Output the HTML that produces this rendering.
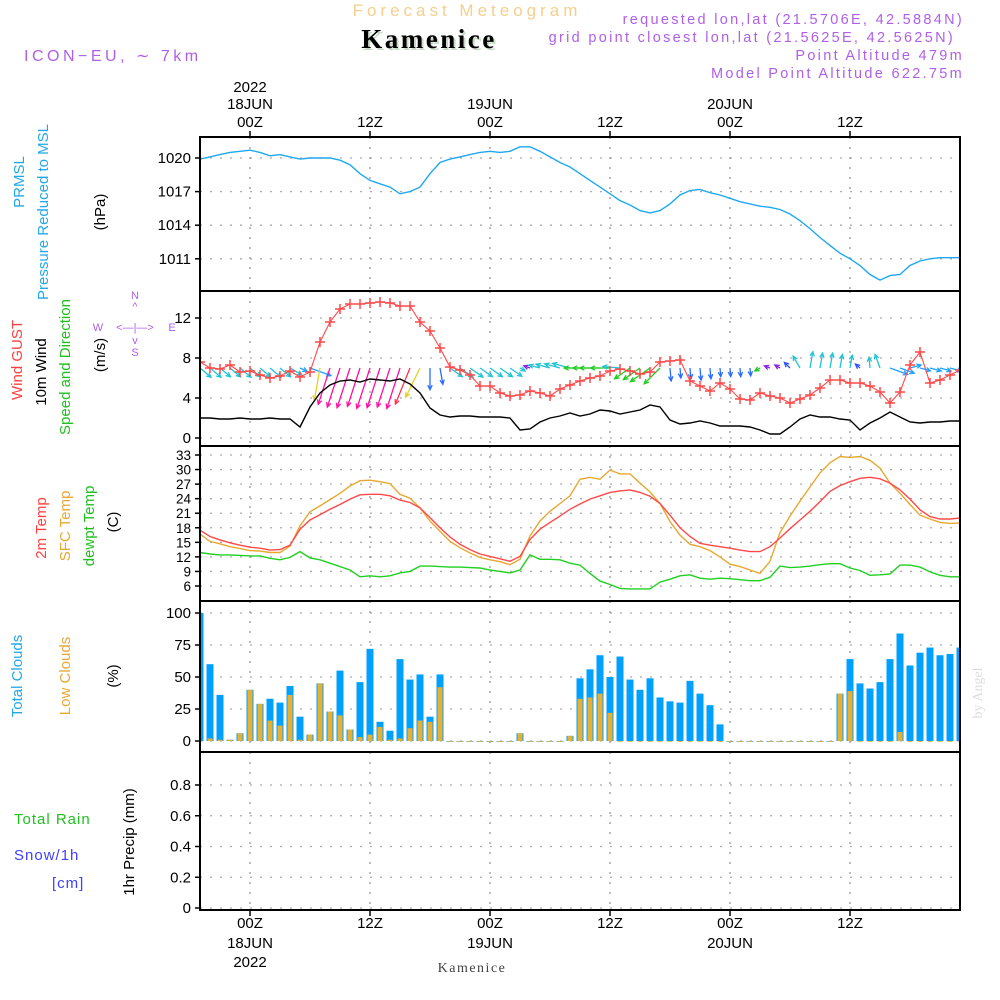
<!DOCTYPE html>
<html><head><meta charset="utf-8"><style>
body{margin:0;background:#fff;}
svg{display:block;font-family:"Liberation Sans",sans-serif;}
</style></head><body>
<svg id="c" width="1000" height="1000" viewBox="0 0 1000 1000" xmlns="http://www.w3.org/2000/svg">
<defs><clipPath id="plotclip"><rect x="200" y="137" width="760" height="773"/></clipPath></defs>
<rect x="0" y="0" width="1000" height="1000" fill="#fff"/>
<text x="467" y="16" text-anchor="middle" font-size="17" letter-spacing="4" fill="#f5cf8e">Forecast Meteogram</text>
<text x="431" y="50" text-anchor="middle" font-size="27" font-weight="bold" letter-spacing="2.5" font-family="Liberation Serif,serif" fill="#c8dcc8">Kamenice</text>
<text x="429" y="48" text-anchor="middle" font-size="27" font-weight="bold" letter-spacing="2.5" font-family="Liberation Serif,serif" fill="#000">Kamenice</text>
<g fill="#b060e8" font-size="14.5" text-anchor="end" letter-spacing="2.3">
<text x="964" y="24">requested lon,lat (21.5706E, 42.5884N)</text>
<text x="955" y="42">grid point closest lon,lat (21.5625E, 42.5625N)</text>
<text x="964" y="60">Point Altitude 479m</text>
<text x="964" y="78">Model Point Altitude 622.75m</text>
</g>
<text x="24" y="61" font-size="16" fill="#b060e8" letter-spacing="3.5">ICON−EU, ∼ 7km</text>
<g font-size="15" fill="#000" text-anchor="middle">
<text x="250" y="92">2022</text>
<text x="250" y="109">18JUN</text>
<text x="490" y="109">19JUN</text>
<text x="730" y="109">20JUN</text>
<text x="250" y="127">00Z</text>
<text x="370" y="127">12Z</text>
<text x="490" y="127">00Z</text>
<text x="610" y="127">12Z</text>
<text x="730" y="127">00Z</text>
<text x="850" y="127">12Z</text>
<text x="250" y="928">00Z</text>
<text x="370" y="928">12Z</text>
<text x="490" y="928">00Z</text>
<text x="610" y="928">12Z</text>
<text x="730" y="928">00Z</text>
<text x="850" y="928">12Z</text>
<text x="250" y="948">18JUN</text>
<text x="490" y="948">19JUN</text>
<text x="730" y="948">20JUN</text>
<text x="250" y="967">2022</text>
</g>
<text x="472" y="972" text-anchor="middle" font-size="14" font-family="Liberation Serif,serif" fill="#444" letter-spacing="1.5">Kamenice</text>
<text transform="translate(982,693) rotate(-90)" text-anchor="middle" font-size="14" font-family="Liberation Serif,serif" fill="#ddd">by Angel</text>
<g font-size="15">
<text transform="translate(24,182) rotate(-90)" text-anchor="middle" fill="#20a8e8">PRMSL</text>
<text transform="translate(48,212) rotate(-90)" text-anchor="middle" fill="#20a8e8">Pressure Reduced to MSL</text>
<text transform="translate(105,212) rotate(-90)" text-anchor="middle" fill="#000">(hPa)</text>
<text transform="translate(22,360) rotate(-90)" text-anchor="middle" fill="#ff4040">Wind GUST</text>
<text transform="translate(46,372) rotate(-90)" text-anchor="middle" fill="#000">10m Wind</text>
<text transform="translate(70,367) rotate(-90)" text-anchor="middle" fill="#20c020">Speed and Direction</text>
<text transform="translate(105,355) rotate(-90)" text-anchor="middle" fill="#000">(m/s)</text>
<text transform="translate(46,528) rotate(-90)" text-anchor="middle" fill="#ff4040">2m Temp</text>
<text transform="translate(70,526) rotate(-90)" text-anchor="middle" fill="#e8a830">SFC Temp</text>
<text transform="translate(94,526) rotate(-90)" text-anchor="middle" fill="#20c020">dewpt Temp</text>
<text transform="translate(118,522) rotate(-90)" text-anchor="middle" fill="#000">(C)</text>
<text transform="translate(22,676) rotate(-90)" text-anchor="middle" fill="#20a8e8">Total Clouds</text>
<text transform="translate(70,676) rotate(-90)" text-anchor="middle" fill="#e8a830">Low Clouds</text>
<text transform="translate(118,676) rotate(-90)" text-anchor="middle" fill="#000">(%)</text>
<text x="14" y="824" fill="#20c020" letter-spacing="1">Total  Rain</text>
<text x="14" y="860" fill="#4040ff" letter-spacing="1">Snow/1h</text>
<text x="52" y="888" fill="#4040ff" letter-spacing="1">[cm]</text>
<text transform="translate(134,842) rotate(-90)" text-anchor="middle" fill="#000">1hr Precip (mm)</text>
</g>
<g fill="#b060e8" font-size="11" text-anchor="middle">
<text x="135" y="299">N</text><text x="135" y="310">^</text>
<text x="98" y="331">W</text><text x="135" y="331">&lt;—|—&gt;</text><text x="172" y="331">E</text>
<text x="135" y="344">v</text><text x="135" y="356">S</text>
</g>
<g id="grid"></g>
<g id="marks" clip-path="url(#plotclip)"></g>
<g id="frames"></g>
</svg>
<script>
// ---- data (hourly, hours -5 .. 71 relative to 18JUN 00Z) ----
const startHour = -5;
const pressure = [1019.9,1020.1,1020.3,1020.5,1020.6,1020.7,1020.5,1020.2,1020.3,1020.1,1019.9,1020,1020,1020,1019.8,1019.4,1018.6,1018,1017.7,1017.4,1016.8,1017,1017.4,1018.6,1019.6,1019.9,1020.1,1020.3,1020.5,1020.6,1020.5,1020.6,1021,1021,1020.6,1020.1,1019.6,1019.2,1018.6,1018,1017.4,1016.8,1016.2,1015.8,1015.3,1015.1,1015.3,1015.9,1016.7,1017.1,1017.2,1016.9,1016.7,1016.4,1016.1,1015.9,1015.7,1015.6,1015.4,1015.0,1014.4,1013.7,1012.9,1012.2,1011.5,1011,1010.4,1009.6,1009.1,1009.5,1009.6,1010.4,1010.8,1011,1011.1,1011.1,1011.1];
const windSpeed = [2.0,2.0,1.9,1.9,2.0,1.9,1.9,2.0,1.9,1.9,1.1,3.1,4.5,5.3,5.7,5.8,5.6,5.9,5.8,5.7,5.9,5.4,4.5,3.0,2.3,2.1,2.2,2.2,2.1,2.1,2.1,2.0,0.8,0.9,1.6,2.0,2.2,2.5,2.2,2.4,2.8,2.7,2.4,2.6,2.8,3.3,3.1,1.8,1.4,1.5,1.7,1.5,1.2,1.2,1.2,1.1,0.8,0.4,0.4,1.1,1.9,2.3,2.1,2.1,1.9,1.8,0.8,1.5,2.0,2.6,2.1,1.6,1.5,1.6,1.6,1.7,1.7];
const windDir = [40,40,40,40,40,40,40,40,40,30,25,20,100,108,108,108,108,108,108,108,108,112,116,90,80,35,35,35,35,35,35,35,30,200,195,195,195,195,180,180,180,180,185,145,145,145,135,85,85,85,85,85,85,85,85,85,150,200,210,225,240,280,280,280,280,280,220,265,250,20,20,-15,15,15,15,15,15];
const windGust = [7.6,7.0,6.9,7.3,6.6,6.7,6.3,6.0,6.2,6.7,6.1,6.6,9.6,11.6,12.9,13.4,13.4,13.5,13.6,13.5,13.2,13.2,11.6,10.7,9.0,7.1,6.8,6.3,5.2,5.2,4.5,4.2,4.3,4.7,4.5,4.2,4.9,5.3,5.7,6.0,6.2,6.7,6.9,6.7,6.4,6.6,7.6,7.7,7.8,5.7,5.2,4.7,5.5,4.9,3.9,3.8,4.5,4.2,4.0,3.5,3.9,4.3,5.0,5.8,5.8,5.5,5.5,5.2,4.6,3.5,4.6,7.3,8.6,5.5,5.8,6.3,6.8];
const temp2m = [17.5,16.2,15.5,14.9,14.4,14.0,13.8,13.4,13.5,14.4,17.7,19.6,20.7,21.8,22.8,23.9,24.8,24.9,24.9,24.6,23.7,23.2,22.1,20.1,18.0,16.1,14.6,13.5,12.6,12.1,11.6,11.1,12.1,15.6,17.7,19.1,20.4,21.8,22.9,23.9,24.6,25.3,25.6,25.8,25.3,24.5,23.0,20.6,18.0,16.2,14.8,14.4,14.1,13.8,13.4,13.1,13.1,14.1,15.9,17.8,19.6,21.4,23.4,25.5,26.7,27.5,28.2,28.4,28.1,27.2,25.8,23.9,21.7,20.3,19.8,19.8,20.0];
const tempSfc = [16.7,15.2,14.7,14.1,13.7,13.3,13.2,12.9,12.9,14.2,18.4,21.3,22.5,23.8,25.1,26.6,27.7,27.8,27.5,27.1,24.9,24.1,22.1,19.4,17.3,15.2,13.9,12.8,11.9,11.4,11.0,10.4,11.5,16.3,19.4,21.4,23.0,24.6,28.0,28.4,28.0,29.9,29.1,29.1,27.2,25.4,23.0,19.3,16.5,14.6,14.1,13.3,12.0,10.5,10.0,9.3,8.6,11.1,17.0,20.4,23.5,26.4,29.3,31.4,32.7,32.5,32.7,31.9,30.3,27.2,25.1,22.8,20.6,19.8,19.1,18.9,19.0];
const dewpt = [12.9,12.6,12.4,12.4,12.3,12.2,12.2,11.7,11.4,11.9,13.1,11.8,11.4,10.7,10.0,9.3,7.9,8.1,7.9,8.1,8.7,9.0,10.1,10.1,10.0,9.9,9.9,9.8,9.7,9.3,9.0,8.7,9.3,12.4,11.5,11.5,11.4,10.7,10.3,8.6,7.0,6.3,5.5,5.4,5.4,5.4,6.8,7.4,8.1,8.3,7.6,7.4,7.6,7.5,7.3,7.1,7.1,7.8,10.1,9.8,9.9,10.1,10.4,10.6,10.6,9.7,9.2,8.2,8.3,8.5,10.3,10.3,9.9,8.9,8.2,7.9,7.9];
const totalCloud = [100,60,36,1,6,40,29,33,30,43,19,5,45,23,55,9,46,72,15,8,64,48,52,19,52,0,0,0,0,0,0,0,6,0,0,0,0,4,49,56,67,50,66,48,40,49,34,31,30,47,37,28,13,0,0,0,0,0,0,0,0,0,0,0,37,64,45,41,46,64,84,59,69,73,67,68,73];
const lowCloud = [0,2,1,1,6,40,29,16,12,36,1,5,45,23,20,9,3,5,11,1,2,10,16,15,42,0,0,0,0,0,0,0,6,0,0,0,0,4,33,34,37,22,0,0,0,0,0,0,0,0,0,0,0,0,0,0,0,0,0,0,0,0,0,0,37,39,0,0,0,0,7,0,0,0,0,0,0];
const precip = [];
const pressureTicks = [1020,1017,1014,1011];
const windTicks = [0,4,8,12];
const tempTicks = [6,9,12,15,18,21,24,27,30,33];
const cloudTicks = [0,25,50,75,100];
const precipTicks = [0,0.2,0.4,0.6,0.8];
const timeTicks = [0,12,24,36,48,60];

const X0 = 200, X1 = 960;
const xOf = h => 250 + 10*h;
const yP = v => 158 + (1020 - v)*11.2;
const yW = v => 438 - 10*v;
const yT = v => 586 - (v - 6)*4.852;
const yC = v => 741 - v*1.28;
const yR = v => 908 - v*153.75;
const NS = 'http://www.w3.org/2000/svg';
function mk(tag, parent, attrs){const e=document.createElementNS(NS,tag);for(const k in attrs)e.setAttribute(k,attrs[k]);parent.appendChild(e);return e;}
const grid = document.getElementById('grid'), marks = document.getElementById('marks'), frames = document.getElementById('frames');

const panels = [
 {top:137,bot:291,ticks:pressureTicks,y:yP,fmt:v=>String(v),name:'pressure'},
 {top:291,bot:446,ticks:windTicks,y:yW,fmt:v=>String(v),name:'wind'},
 {top:446,bot:601,ticks:tempTicks,y:yT,fmt:v=>String(v),name:'temperature'},
 {top:601,bot:752,ticks:cloudTicks,y:yC,fmt:v=>String(v),name:'cloud'},
 {top:752,bot:910,ticks:precipTicks,y:yR,fmt:v=>v===0?'0':v.toFixed(1),name:'precip'}
];
panels.forEach(p=>{
  p.ticks.forEach(t=>{
    const y=p.y(t);
    const g=mk('line',grid,{x1:X0,x2:X1,y1:y,y2:y,stroke:'#aaa','stroke-width':1.3,'stroke-dasharray':'2 8'});
    
    
    mk('line',frames,{x1:X0-5,x2:X0,y1:y,y2:y,stroke:'#000','stroke-width':1.5});
    const tx=mk('text',frames,{x:X0-9,y:y+5,'text-anchor':'end','font-size':p.name==='temperature'?13.5:15,fill:'#000'});
    tx.textContent=p.fmt(t);
    
    
  });
  timeTicks.forEach(h=>{
    const x=xOf(h);
    const v=mk('line',grid,{x1:x,x2:x,y1:p.top,y2:p.bot,stroke:'#999','stroke-width':1.3,'stroke-dasharray':'2 8'});
    
    
  });
  const fr=mk('rect',frames,{x:X0,y:p.top,width:X1-X0,height:p.bot-p.top,fill:'none',stroke:'#000','stroke-width':2});
  
  
});
timeTicks.forEach(h=>{mk('line',frames,{x1:xOf(h),x2:xOf(h),y1:131,y2:137,stroke:'#000','stroke-width':1.5});mk('line',frames,{x1:xOf(h),x2:xOf(h),y1:910,y2:916,stroke:'#000','stroke-width':1.5});});

function line(arr, yf, color, name, w){
  const pts=arr.map((v,i)=>xOf(startHour+i)+','+yf(v).toFixed(1)).join(' ');
  const l=mk('polyline',marks,{points:pts,fill:'none',stroke:color,'stroke-width':w||1.4});
  
  
  return l;
}
line(pressure, yP, '#1ea8f0', 'pressure-line', 1.4);

totalCloud.forEach((v,i)=>{
  const x=xOf(startHour+i);
  const r=mk('rect',marks,{x:Math.max(X0,x-3.5),y:yC(v),width:x-3.5<X0?x+3.5-X0:7,height:Math.max(0.8,741-yC(v)),fill:'#00a0ff'});
  
  
  const lv=lowCloud[i];
  const b=mk('rect',marks,{x:x-2.5,y:yC(lv),width:5,height:Math.max(0.8,741-yC(lv)),fill:'#e8b030'});
  
  
});

line(dewpt, yT, '#20d020', 'dewpoint-line', 1.4);
line(tempSfc, yT, '#e8a830', 'sfc-temp-line', 1.4);
line(temp2m, yT, '#ff4848', '2m-temp-line', 1.4);

function arrowColor(a){
  a=((a%360)+360)%360;
  if(a<28||a>=330) return '#1ea0ff';
  if(a<75) return '#20c4d4';
  if(a<95) return '#2a6cff';
  if(a<104) return '#e8d020';
  if(a<111) return '#ff10a0';
  if(a<114) return '#ff3050';
  if(a<125) return '#e8d020';
  if(a<182) return '#20cc20';
  if(a<198) return '#20c4d4';
  if(a<215) return '#8a20e0';
  if(a<230) return '#3050ff';
  return '#20c4d4';
}
windDir.forEach((d,i)=>{
  const s=windSpeed[i];
  const x=xOf(startHour+i), y=368;
  const len=Math.max(6,s*7.2), rad=d*Math.PI/180;
  const x2=x+len*Math.cos(rad), y2=y+len*Math.sin(rad);
  const c=arrowColor(d);
  const g=mk('g',marks,{stroke:c,'stroke-width':1.3,fill:'none'});
  
  
  mk('line',g,{x1:x,y1:y,x2:x2,y2:y2});
  const h=5, a1=rad+Math.PI-0.45, a2=rad+Math.PI+0.45;
  mk('polyline',g,{points:(x2+h*Math.cos(a1))+','+(y2+h*Math.sin(a1))+' '+x2+','+y2+' '+(x2+h*Math.cos(a2))+','+(y2+h*Math.sin(a2))});
});
line(windSpeed, yW, '#000', 'wind-speed-line', 1.4);
line(windGust, yW, '#ff4848', 'wind-gust-line', 1.1);
windGust.forEach((v,i)=>{
  const x=xOf(startHour+i), y=yW(v);
  const m=mk('path',marks,{d:`M${x-5} ${y}H${x+5}M${x} ${y-5}V${y+5}`,stroke:'#ff4848','stroke-width':1.5});
  
  
});
</script>
</body></html>
